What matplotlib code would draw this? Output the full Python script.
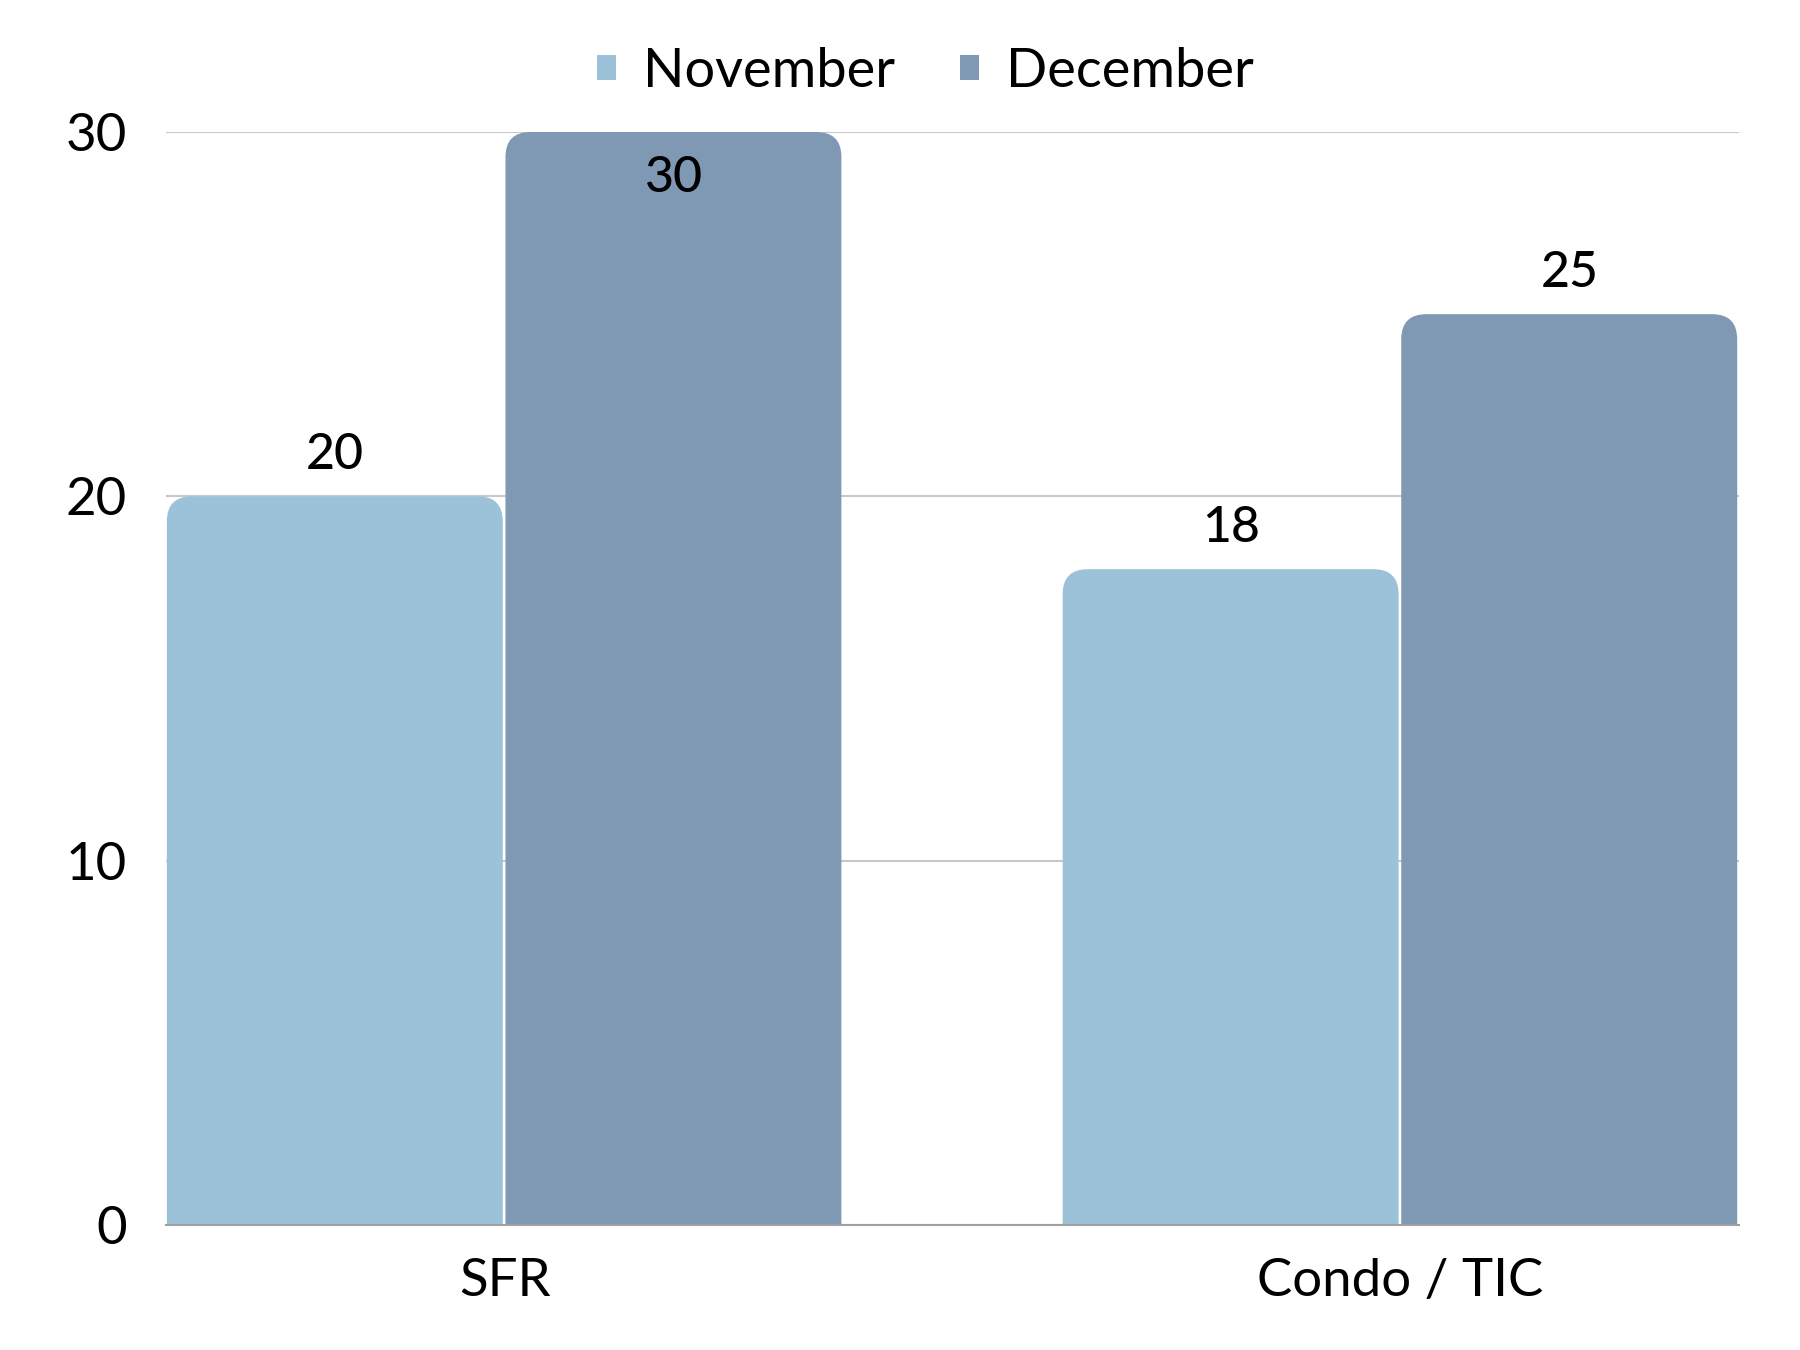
import matplotlib
matplotlib.use("Agg")
import matplotlib.pyplot as plt
from matplotlib.patches import FancyBboxPatch, Rectangle
import numpy as np

plt.rcParams['font.family'] = ['Lato', 'DejaVu Sans']

categories = ['SFR', 'Condo / TIC']
series = ['November', 'December']
values = {
    'November': [20, 18],
    'December': [30, 25],
}
colors = {'November': '#9BC2D8', 'December': '#7F98B4'}
yticks = [0, 10, 20, 30]

fig = plt.figure(figsize=(18, 13.5), dpi=100)
ax = fig.add_axes([0.0922, 0.0926, 0.8739, 0.8096])

x = np.arange(len(categories))
width = 0.378
offsets = [-width / 2, width / 2]

ax.set_xlim(-0.378, 1.378)
ax.set_ylim(0, 30)

# corner radius in pixels -> data units
px_per_x = ax.get_window_extent().width / (1.378 + 0.378)
px_per_y = ax.get_window_extent().height / 30
radius_px = 25
rx = radius_px / px_per_x
ry = radius_px / px_per_y

for s, off in zip(series, offsets):
    bars = ax.bar(x + off, values[s], width, color=colors[s], label=s, alpha=0)
    for b in bars:
        bx, bw, bh = b.get_x(), b.get_width(), b.get_height()
        # extend below zero so only the top corners show rounded
        patch = FancyBboxPatch((bx + 0.001, -2 * ry), bw - 0.003, bh + 2 * ry,
                               boxstyle=f"round,pad=0,rounding_size={rx}",
                               mutation_aspect=ry / rx,
                               facecolor=colors[s], edgecolor='none', zorder=2)
        ax.add_patch(patch)
        patch.set_clip_path(ax.patch)
        if bh >= 30:
            ax.annotate(f"{bh:g}", (bx + bw / 2, bh), xytext=(0, -33),
                        textcoords='offset points', ha='center', va='center',
                        fontsize=36, fontweight='medium', zorder=3)
        else:
            ax.annotate(f"{bh:g}", (bx + bw / 2, bh), xytext=(0, 30),
                        textcoords='offset points', ha='center', va='center',
                        fontsize=36, fontweight='medium', zorder=3)

ax.set_yticks(yticks)
ax.set_xticks(x)
ax.set_xticklabels(categories, fontsize=38)
ax.tick_params(axis='y', labelsize=38, length=0, pad=28)
ax.tick_params(axis='x', length=0, pad=24)
ax.grid(axis='y', color='#C8C8C8', linewidth=1.5, zorder=0)
ax.set_axisbelow(True)
for sp in ['top', 'right', 'left']:
    ax.spines[sp].set_visible(False)
ax.spines['bottom'].set_color('#A0A0A0')
ax.spines['bottom'].set_linewidth(1.5)
ax.spines['bottom'].set_zorder(3)

handles = [Rectangle((0, 0), 1, 1, facecolor=colors[s]) for s in series]
fig.legend(handles, series, loc='center', bbox_to_anchor=(0.514, 0.947),
           ncol=2, frameon=False, fontsize=39, handlelength=0.35, handleheight=0.35,
           handletextpad=0.5, columnspacing=1.2)

fig.savefig('out.png', dpi=100)
